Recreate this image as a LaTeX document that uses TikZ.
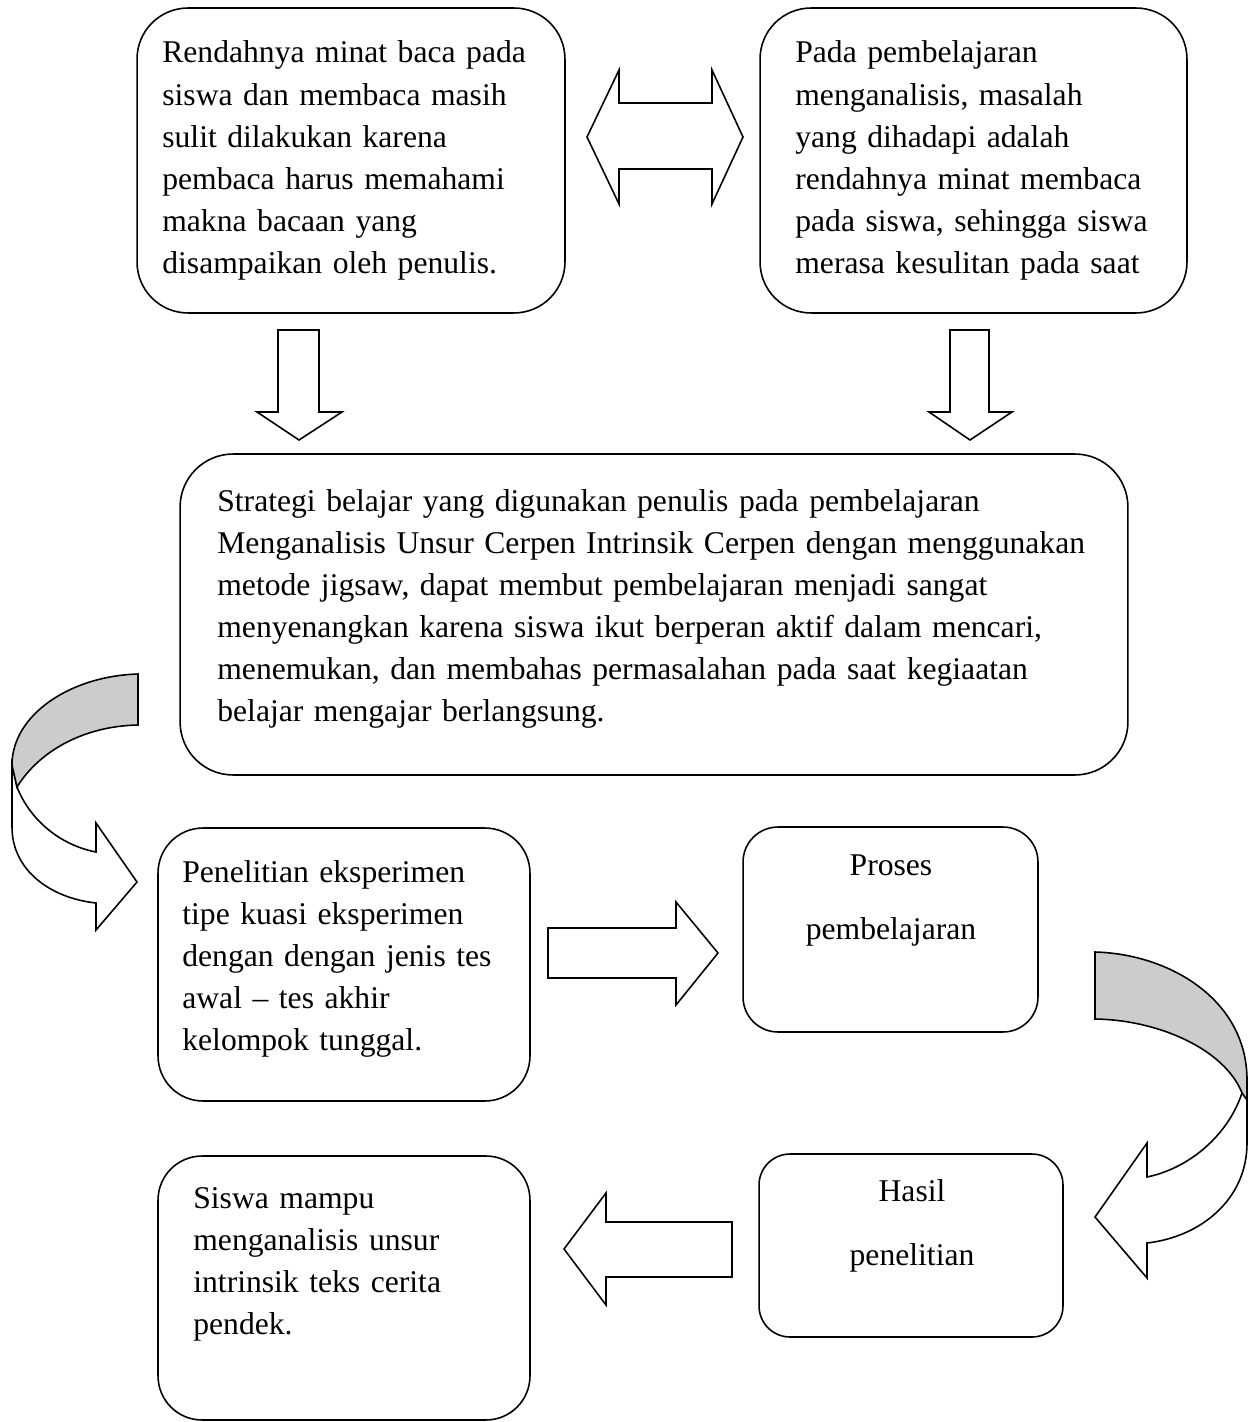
\documentclass[tikz,border=0pt]{standalone}
\usepackage{fontspec}
\setmainfont{Liberation Serif}
\usepackage{tikz}

\begin{document}
\begin{tikzpicture}[x=0.02cm, y=-0.02cm,
    box/.style={draw, line width=0.9pt, rounded corners=#1},
    box/.default=1cm,
    txt/.style={anchor=base west, inner sep=0pt, text width=18cm, align=left,
        font=\fontsize{18pt}{24pt}\selectfont},
    midtxt/.style={anchor=base, inner sep=0pt, text width=5cm, align=center,
        font=\fontsize{18pt}{36.8pt}\selectfont},
    blockarrow/.style={draw, line width=0.9pt, fill=white, line join=miter},
    bandgrey/.style={draw, line width=0.9pt, fill=black!20}]

    \useasboundingbox (0,0) rectangle (1248,1422);

    % Top boxes
    \node[box=1.02cm, minimum width=8.56cm, minimum height=6.1cm] (rendah) at (351,160.5) {};
    \node[txt] (rendahtxt) at (162,63) {Rendahnya minat baca pada\\
        siswa dan membaca masih\\
        sulit dilakukan karena\\
        pembaca harus memahami\\
        makna bacaan yang\\
        disampaikan oleh penulis.};

    \node[box=1.02cm, minimum width=8.54cm, minimum height=6.1cm] (masalah) at (973.5,160.5) {};
    \node[txt] (masalahtxt) at (795,63) {Pada pembelajaran\\
        menganalisis, masalah\\
        yang dihadapi adalah\\
        rendahnya minat membaca\\
        pada siswa, sehingga siswa\\
        merasa kesulitan pada saat};

    % Double arrow between the top boxes
    \draw[blockarrow] (587,137) -- (619,70) -- (619,103) -- (712,103) -- (712,70)
        -- (743,137) -- (712,204) -- (712,169) -- (619,169) -- (619,204) -- cycle;

    % Down arrows
    \draw[blockarrow] (278,330) -- (319,330) -- (319,412) -- (342,412) -- (299,440)
        -- (257,412) -- (278,412) -- cycle;
    \draw[blockarrow] (950,330) -- (989,330) -- (989,412) -- (1012,412) -- (970,440)
        -- (929,412) -- (950,412) -- cycle;

    % Middle box
    \node[box=1.06cm, minimum width=18.96cm, minimum height=6.42cm] (strategi) at (654,614.5) {};
    \node[txt] (strategitxt) at (217,511) {Strategi belajar yang digunakan penulis pada pembelajaran\\
        Menganalisis Unsur Cerpen Intrinsik Cerpen dengan menggunakan\\
        metode jigsaw, dapat membut pembelajaran menjadi sangat\\
        menyenangkan karena siswa ikut berperan aktif dalam mencari,\\
        menemukan, dan membahas permasalahan pada saat kegiaatan\\
        belajar mengajar berlangsung.};

    % Curved arrow on the left
    \draw[blockarrow] (12,765) -- (12,827) .. controls (12,870) and (50,898) .. (96,903)
        -- (96,930) -- (137,882) -- (96,823) -- (96,852)
        .. controls (60,845) and (30,820) .. (17,787) -- cycle;
    \draw[bandgrey] (138,674) .. controls (70,676) and (12,715) .. (12,765)
        -- (17,787) .. controls (40,750) and (85,726) .. (138,725) -- cycle;

    % Experiment and process
    \node[box=0.9cm, minimum width=7.44cm, minimum height=5.46cm] (eksperimen) at (344,964.5) {};
    \node[txt] (eksperimentxt) at (182,882) {Penelitian eksperimen\\
        tipe kuasi eksperimen\\
        dengan dengan jenis tes\\
        awal -- tes akhir\\
        kelompok tunggal.};

    \draw[blockarrow] (548,928) -- (676,928) -- (676,902) -- (718,953) -- (676,1005)
        -- (676,978) -- (548,978) -- cycle;

    \node[box=0.7cm, minimum width=5.9cm, minimum height=4.1cm] (proses) at (890.5,929.5) {};
    \node[midtxt] (prosestxt) at (891,875) {Proses\\ pembelajaran};

    % Curved arrow on the right
    \draw[bandgrey] (1095,952) .. controls (1170,954) and (1247,1000) .. (1247,1080)
        -- (1247,1105) -- (1242,1093) .. controls (1225,1050) and (1160,1020) .. (1095,1019) -- cycle;
    \draw[blockarrow] (1247,1100) -- (1247,1143) .. controls (1247,1200) and (1200,1237) .. (1147,1243)
        -- (1147,1278) -- (1095,1217) -- (1147,1143) -- (1147,1177)
        .. controls (1190,1168) and (1228,1135) .. (1242,1093) -- cycle;

    % Result and conclusion
    \node[box=0.62cm, minimum width=6.08cm, minimum height=3.66cm] (hasil) at (911,1245.5) {};
    \node[midtxt] (hasiltxt) at (912,1201) {Hasil\\ penelitian};

    \draw[blockarrow] (732,1222) -- (606,1222) -- (606,1193) -- (564,1249) -- (606,1305)
        -- (606,1277) -- (732,1277) -- cycle;

    \node[box=0.88cm, minimum width=7.44cm, minimum height=5.28cm] (siswa) at (344,1288) {};
    \node[txt] (siswatxt) at (193,1208) {Siswa mampu\\
        menganalisis unsur\\
        intrinsik teks cerita\\
        pendek.};

\end{tikzpicture}
\end{document}
